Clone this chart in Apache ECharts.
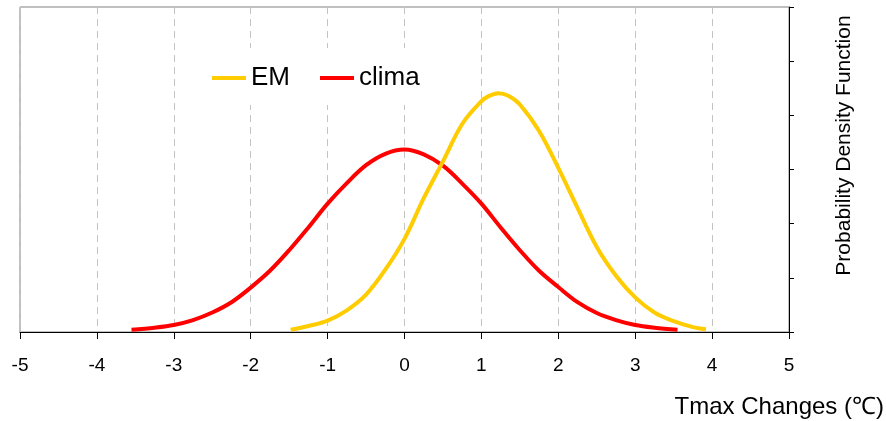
<!DOCTYPE html>
<html>
<head>
<meta charset="utf-8">
<script src="https://cdn.jsdelivr.net/npm/echarts@6/dist/echarts.min.js"></script>
<style>html,body{margin:0;padding:0;background:#fff}#c{width:886px;height:421px}</style>
</head>
<body>
<div id="c"></div>
<script>
const xTicks = [-5, -4, -3, -2, -1, 0, 1, 2, 3, 4, 5];
const emX = [-1.48, -1.25, -1, -0.75, -0.5, -0.25, 0, 0.25, 0.5, 0.75, 1, 1.1, 1.22, 1.35, 1.5, 1.75, 2, 2.25, 2.5, 2.75, 3, 3.25, 3.5, 3.75, 3.92];
const emY = [0.004, 0.011, 0.021, 0.040, 0.069, 0.115, 0.172, 0.247, 0.315, 0.384, 0.426, 0.436, 0.441, 0.436, 0.420, 0.371, 0.303, 0.229, 0.157, 0.104, 0.064, 0.036, 0.020, 0.009, 0.005];
const climaX = [-3.55, -3.25, -3, -2.75, -2.5, -2.25, -2, -1.75, -1.5, -1.25, -1, -0.75, -0.5, -0.25, 0, 0.25, 0.5, 0.75, 1, 1.25, 1.5, 1.75, 2, 2.25, 2.5, 2.75, 3, 3.25, 3.55];
const climaY = [0.004, 0.008, 0.013, 0.022, 0.036, 0.055, 0.082, 0.113, 0.151, 0.193, 0.237, 0.275, 0.308, 0.329, 0.337, 0.328, 0.307, 0.274, 0.237, 0.193, 0.151, 0.113, 0.083, 0.055, 0.035, 0.022, 0.013, 0.008, 0.004];

const font = 'Arial, "Liberation Sans", sans-serif';
const pairs = (xs, ys) => xs.map((x, i) => [x, ys[i]]);

const chart = echarts.init(document.getElementById('c'), null, {renderer: 'canvas'});
chart.setOption({
  animation: false,
  backgroundColor: '#fff',
  textStyle: {fontFamily: font},
  grid: {
    left: 20, right: 97, top: 7, bottom: 89,
    show: true, borderColor: '#808080', borderWidth: 1,
    outerBoundsMode: 'none'
  },
  legend: {
    left: 200, top: 48,
    padding: [17, 12, 14, 12],
    backgroundColor: '#fff',
    icon: 'rect',
    itemWidth: 34, itemHeight: 4, itemGap: 30,
    textStyle: {fontSize: 26, color: '#000', fontFamily: font},
    data: ['EM', 'clima']
  },
  xAxis: {
    type: 'value', min: -5, max: 5, interval: 1,
    axisLine: {show: true, onZero: false, lineStyle: {color: '#000', width: 1}},
    axisTick: {show: true, length: 7, lineStyle: {color: '#000'}},
    axisLabel: {fontSize: 19, color: '#000', margin: 24, fontFamily: font},
    splitLine: {show: true, lineStyle: {color: '#c4c4c4', type: [7, 5], width: 1}},
    name: 'Tmax Changes (℃)',
    nameLocation: 'end', nameGap: 95,
    nameTextStyle: {fontSize: 24, color: '#000', align: 'right', verticalAlign: 'top', padding: [63, 0, 0, 0], fontFamily: font}
  },
  yAxis: {
    type: 'value', min: 0, max: 0.6, interval: 0.1,
    position: 'right',
    axisLine: {show: true, onZero: false, lineStyle: {color: '#000', width: 1}},
    axisTick: {show: true, inside: false, length: 5, lineStyle: {color: '#000'}},
    axisLabel: {show: false},
    splitLine: {show: false},
    name: 'Probability Density Function',
    nameLocation: 'middle', nameGap: 45,
    nameTextStyle: {fontSize: 21, color: '#000', padding: [0, 0, 0, 48], fontFamily: font}
  },
  series: [
    {name: 'EM', type: 'line', data: pairs(emX, emY), smooth: 0.35, symbol: 'none',
      lineStyle: {color: '#FFCC00', width: 4}, itemStyle: {color: '#FFCC00'}, z: 3},
    {name: 'clima', type: 'line', data: pairs(climaX, climaY), smooth: 0.35, symbol: 'none',
      lineStyle: {color: '#FF0000', width: 4}, itemStyle: {color: '#FF0000'}, z: 2}
  ]
});
</script>
</body>
</html>
